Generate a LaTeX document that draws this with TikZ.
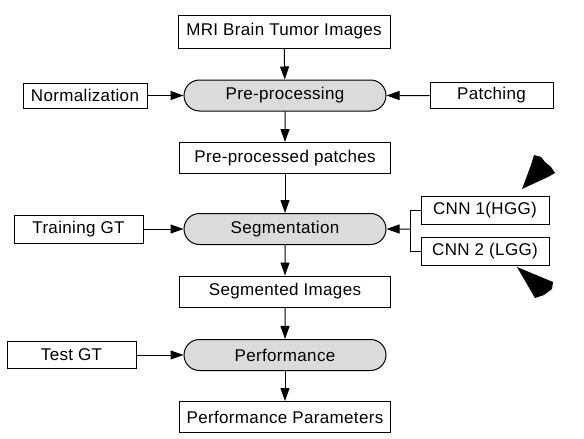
\documentclass[tikz,border=0pt]{standalone}
\usepackage{fontspec}
\setmainfont{Liberation Sans}
\usetikzlibrary{arrows.meta,shapes.misc}
\begin{document}
\begin{tikzpicture}[x=1pt,y=-1pt,
    box/.style={draw,line width=1pt,inner sep=0pt,font=\fontsize{17}{19}\selectfont\addfontfeature{LetterSpace=2}},
    stage/.style={box,rounded rectangle,fill=black!14,minimum width=202pt,minimum height=31pt},
    flow/.style={draw,line width=1pt,-{Triangle[length=13pt,width=9pt]}}]
    \useasboundingbox (0,0) rectangle (584,439);

    \node[box,minimum width=212pt,minimum height=33pt] (mri) at (284,31.5) {MRI Brain Tumor Images};

    \node[stage] (pre) at (285,95.5) {Pre-processing};
    \node[box,minimum width=124pt,minimum height=25pt] (norm) at (85,95.5) {Normalization};
    \node[box,minimum width=123pt,minimum height=26pt] (patch) at (491.5,95.5) {Patching};

    \node[box,minimum width=211pt,minimum height=31pt] (prep) at (285,158) {Pre-processed patches};

    \node[stage] (seg) at (285,229) {Segmentation};
    \node[box,minimum width=129pt,minimum height=28pt] (train) at (78.5,229) {Training GT};
    \node[box,minimum width=128pt,minimum height=28pt] (cnn1) at (485,210) {CNN 1(HGG)};
    \node[box,minimum width=128pt,minimum height=28pt] (cnn2) at (485,251.5) {CNN 2 (LGG)};

    \node[box,minimum width=211pt,minimum height=31pt] (segim) at (285,291.5) {Segmented Images};

    \node[stage] (perf) at (285,355) {Performance};
    \node[box,minimum width=129pt,minimum height=27pt] (test) at (71.5,355) {Test GT};

    \node[box,minimum width=211pt,minimum height=31pt] (param) at (285,417) {Performance Parameters};

    \path[flow] (mri) -- (pre);
    \path[flow] (norm) -- (pre);
    \path[flow] (patch) -- (pre);
    \path[flow] (pre) -- (prep);
    \path[flow] (prep) -- (seg);
    \path[flow] (train) -- (seg);

    \coordinate (fork) at ([xshift=-10pt]cnn1.west |- seg.east);
    \draw[line width=1pt] (cnn1.west) -| (fork) |- (cnn2.west);
    \path[flow] (fork) -- (seg);

    \path[flow] (seg) -- (segim);
    \path[flow] (segim) -- (perf);
    \path[flow] (test) -- (perf);
    \path[flow] (perf) -- (param);

    % black marks at the right
    \fill (522,189) -- (531,165) -- (534,155) -- (541,157) -- (545,162) -- (551,167) -- (555,173) -- (548,177) -- cycle;
    \fill (517,267) -- (553,282) -- (552,289) -- (544,295) -- (535,298) -- cycle;
\end{tikzpicture}
\end{document}
